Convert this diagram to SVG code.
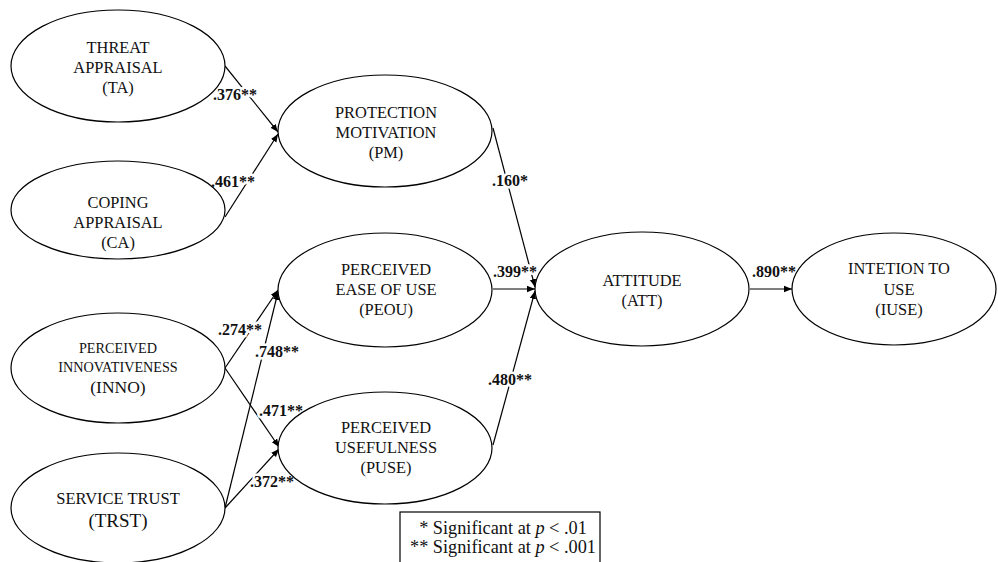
<svg xmlns="http://www.w3.org/2000/svg" width="998" height="562" viewBox="0 0 998 562">
<style>
.n{fill:#fff;stroke:#000;stroke-width:1.2}
.t{font-family:"Liberation Serif","Times New Roman",serif;font-size:16.4px;fill:#111;text-anchor:middle}
.s{font-size:14.2px}
.e{stroke:#000;stroke-width:1.2;fill:none;marker-end:url(#ah)}
.l{font-family:"Liberation Serif","Times New Roman",serif;font-size:16px;font-weight:bold;fill:#111;stroke:#fff;stroke-width:5;paint-order:stroke;stroke-linejoin:round}
.g{font-family:"Liberation Serif","Times New Roman",serif;font-size:18.3px;fill:#111;text-anchor:middle}
</style>
<defs>
<marker id="ah" viewBox="0 0 10 10" refX="10" refY="5" markerWidth="8" markerHeight="8" markerUnits="userSpaceOnUse" orient="auto">
<path d="M0,1 L10,5 L0,9 z" fill="#000"/>
</marker>
</defs>
<rect width="998" height="562" fill="#fff"/>
<g id="connectors">
<line class="e" x1="225" y1="66" x2="278" y2="132"/>
<line class="e" x1="225" y1="217" x2="278" y2="134"/>
<line class="e" x1="493" y1="128" x2="535" y2="287"/>
<line class="e" x1="493" y1="289" x2="535" y2="289"/>
<line class="e" x1="493" y1="445" x2="535" y2="291"/>
<line class="e" x1="750" y1="289" x2="792" y2="289"/>
<line class="e" x1="225" y1="368" x2="278" y2="290"/>
<line class="e" x1="225" y1="508" x2="278" y2="292"/>
<line class="e" x1="225" y1="368" x2="279" y2="447"/>
<line class="e" x1="225" y1="508" x2="279" y2="449"/>
<text class="l" x="213" y="100">.376**</text>
<text class="l" x="211" y="187">.461**</text>
<text class="l" x="492" y="186">.160*</text>
<text class="l" x="493" y="277">.399**</text>
<text class="l" x="218" y="335">.274**</text>
<text class="l" x="255" y="357">.748**</text>
<text class="l" x="259" y="416">.471**</text>
<text class="l" x="250" y="487">.372**</text>
<text class="l" x="488" y="385">.480**</text>
<text class="l" x="752" y="277">.890**</text>
</g>
<g id="TA">
<ellipse class="n" cx="118" cy="66" rx="107" ry="56"/>
<text class="t" x="118" y="53">THREAT</text>
<text class="t" x="118" y="73">APPRAISAL</text>
<text class="t" x="118" y="93">(TA)</text>
</g>
<g id="CA">
<ellipse class="n" cx="118" cy="210" rx="107" ry="49"/>
<text class="t" x="118" y="208">COPING</text>
<text class="t" x="118" y="228">APPRAISAL</text>
<text class="t" x="118" y="248">(CA)</text>
</g>
<g id="INNO">
<ellipse class="n" cx="118" cy="368" rx="107" ry="55"/>
<text class="t s" x="118" y="353">PERCEIVED</text>
<text class="t s" x="118" y="372">INNOVATIVENESS</text>
<text class="t" x="118" y="393" style="font-size:17.5px">(INNO)</text>
</g>
<g id="TRST">
<ellipse class="n" cx="118" cy="508" rx="107" ry="55"/>
<text class="t" x="118" y="504" style="font-size:16.5px">SERVICE TRUST</text>
<text class="t" x="118" y="527" style="font-size:19px">(TRST)</text>
</g>
<g id="PM">
<ellipse class="n" cx="385" cy="131" rx="107" ry="56"/>
<text class="t" x="386" y="118">PROTECTION</text>
<text class="t" x="386" y="138">MOTIVATION</text>
<text class="t" x="386" y="158">(PM)</text>
</g>
<g id="PEOU">
<ellipse class="n" cx="385" cy="290" rx="107" ry="57"/>
<text class="t" x="386" y="275">PERCEIVED</text>
<text class="t" x="386" y="295">EASE OF USE</text>
<text class="t" x="386" y="315">(PEOU)</text>
</g>
<g id="PUSE">
<ellipse class="n" cx="385" cy="448" rx="107" ry="56"/>
<text class="t" x="386" y="433">PERCEIVED</text>
<text class="t" x="386" y="453">USEFULNESS</text>
<text class="t" x="386" y="473">(PUSE)</text>
</g>
<g id="ATT">
<ellipse class="n" cx="642" cy="289" rx="107" ry="57"/>
<text class="t" x="642" y="286">ATTITUDE</text>
<text class="t" x="642" y="306">(ATT)</text>
</g>
<g id="IUSE">
<ellipse class="n" cx="894" cy="289" rx="102" ry="56"/>
<text class="t" x="899" y="274">INTETION TO</text>
<text class="t" x="899" y="295">USE</text>
<text class="t" x="899" y="315">(IUSE)</text>
</g>
<g id="legend">
<rect x="400" y="512" width="200" height="60" fill="#fff" stroke="#000" stroke-width="1.2"/>
<text class="g" x="503" y="534">* Significant at <tspan font-style="italic">p</tspan> &lt; .01</text>
<text class="g" x="503" y="553">** Significant at <tspan font-style="italic">p</tspan> &lt; .001</text>
</g>
</svg>
